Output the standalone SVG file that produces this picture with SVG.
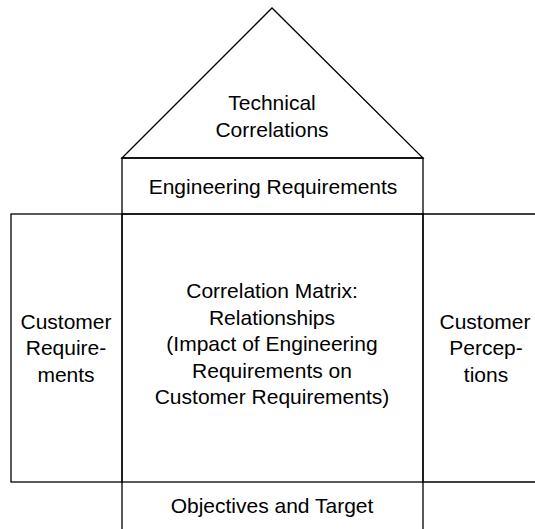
<svg xmlns="http://www.w3.org/2000/svg" width="535" height="529" viewBox="0 0 535 529">
<style>
.s{fill:none;stroke:#000;stroke-width:1.3}
text{font-family:"Liberation Sans",Arial,sans-serif;font-size:21px;fill:#000;text-anchor:middle}
</style>
<rect width="535" height="529" fill="#fff"/>
<g id="roof">
<path class="s" d="M122,158 L272,8 L423,158 Z"/>
<text x="272" y="110">Technical</text>
<text x="272" y="137">Correlations</text>
</g>
<g id="engineering">
<rect class="s" x="122" y="158" width="301" height="56"/>
<text x="273" y="194">Engineering Requirements</text>
</g>
<g id="customer-requirements">
<rect class="s" x="11" y="214" width="111" height="268"/>
<text x="66" y="329">Customer</text>
<text x="66" y="355">Require-</text>
<text x="66" y="382">ments</text>
</g>
<g id="matrix">
<rect class="s" x="122" y="214" width="301" height="268"/>
<text x="272" y="298">Correlation Matrix:</text>
<text x="272" y="325">Relationships</text>
<text x="272" y="351">(Impact of Engineering</text>
<text x="272" y="378">Requirements on</text>
<text x="272" y="404">Customer Requirements)</text>
</g>
<g id="customer-perceptions">
<path class="s" d="M535,214 L423,214 L423,482 L535,482"/>
<text x="485" y="329">Customer</text>
<text x="486" y="355">Percep-</text>
<text x="486" y="382">tions</text>
</g>
<g id="objectives">
<path class="s" d="M122,482 L122,529 M423,482 L423,529"/>
<text x="272" y="513">Objectives and Target</text>
</g>
<g id="connectors"></g>
</svg>
